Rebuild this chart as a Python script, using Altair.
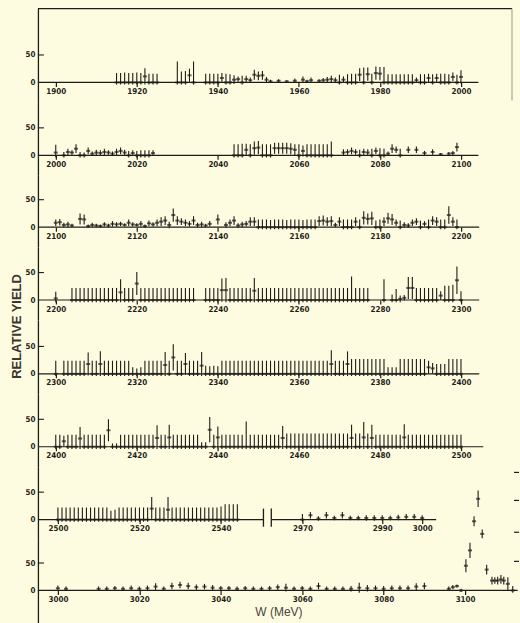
import altair as alt
import pandas as pd

INK = "#1f1c18"
BG = "#fdfbe0"
LFONT = "Liberation Sans Narrow, DejaVu Sans Condensed, sans-serif"

# ---------------- data: (W [MeV], relative yield, error) ----------------
p1 = [(1915,0,17),(1916,0,17),(1917,0,18),(1918,0,17),(1919,0,17),(1920,0,18),(1921,0,17),(1922,11,15),(1923,0,16),(1924,0,16),(1925,0,16),
      (1930,0,38),(1931,0,20),(1932,0,21),(1933,13,12),(1934,0,38),
      (1937,0,16),(1938,0,16),(1939,0,16),(1940,0,16),(1941,8,9),(1942,0,16),(1943,0,15),(1944,5,8),(1945,6,5),(1946,0,12),(1947,6,6),(1948,4,5),
      (1949,14,9),(1950,12,8),(1951,13,8),(1952,5,5),(1953,2,3),
      (1955,3,3),(1957,2,2),(1959,3,4),(1961,5,6),(1962,2,3),(1963,4,5),(1965,3,3),(1966,4,4),(1967,5,5),(1968,6,6),(1969,4,5),(1970,0,14),(1971,5,6),
      (1972,0,15),(1973,0,16),(1974,0,16),(1975,14,12),(1976,0,27),(1977,15,12),(1978,0,16),(1979,17,12),(1980,16,12),(1981,0,28),(1982,0,15),
      (1983,0,15),(1984,0,15),(1985,0,15),(1986,0,15),(1987,0,15),(1988,0,15),(1989,4,5),(1990,0,15),(1991,0,15),(1992,8,8),(1993,0,15),
      (1994,8,8),(1995,0,16),(1996,0,16),(1997,0,15),(1998,10,8),(1999,0,14),(2000,10,12)]

p2 = [(2000,5,14),(2002,0,6),(2003,6,6),(2004,5,4),(2005,12,8),(2006,0,6),(2007,0,5),(2008,8,6),(2009,3,4),(2010,5,5),(2011,4,5),(2012,6,6),
      (2013,5,4),(2014,3,4),(2015,6,6),(2016,8,6),(2017,5,5),(2018,0,8),(2019,4,5),(2020,0,8),(2021,0,9),(2022,0,9),(2023,0,9),(2024,4,5),
      (2044,0,20),(2045,0,20),(2046,0,21),(2047,10,11),(2048,0,20),(2049,13,12),(2050,14,12),(2051,0,20),(2052,0,20),(2053,0,20),(2054,13,10),
      (2055,13,10),(2056,13,10),(2057,13,10),(2058,12,10),(2059,10,10),(2060,0,20),(2061,8,10),(2062,0,20),(2063,0,20),(2064,0,20),(2065,0,20),
      (2066,0,20),(2067,0,20),(2068,0,25),
      (2071,5,6),(2072,6,5),(2073,8,6),(2074,6,5),(2075,0,10),(2076,6,6),(2077,5,6),(2078,0,12),(2079,8,6),(2080,0,13),(2081,0,12),(2082,3,4),
      (2083,12,8),(2084,10,6),(2085,0,12),(2087,10,6),(2089,10,6),(2091,4,4),(2093,6,5),(2095,2,2),(2097,3,3),(2098,4,4),(2099,15,8)]

p3 = [(2100,8,6),(2101,9,6),(2102,4,4),(2103,5,5),(2104,3,3),(2106,15,10),(2107,14,9),(2108,2,3),(2109,4,4),(2110,3,3),(2111,2,3),(2112,5,4),
      (2113,3,3),(2114,6,5),(2115,5,4),(2116,6,4),(2117,4,3),(2118,8,6),(2119,5,4),(2120,4,3),(2121,6,5),(2122,2,3),(2123,7,5),(2124,5,4),
      (2125,8,6),(2126,10,8),(2127,12,8),(2128,4,6),(2129,22,12),(2130,12,8),(2131,10,6),(2132,8,6),(2133,6,5),(2134,12,8),(2135,4,4),(2136,5,5),
      (2137,3,3),(2138,6,5),(2140,14,9),(2142,4,5),(2143,8,6),(2144,12,8),(2145,3,4),(2146,5,5),(2147,6,5),(2148,10,8),(2149,10,8),
      (2150,0,14),(2151,0,14),(2152,0,14),(2153,0,13),(2154,0,14),(2155,0,14),(2156,0,14),(2157,0,13),(2158,0,14),(2159,0,14),(2160,0,14),
      (2161,0,13),(2162,0,14),(2163,0,14),(2164,0,14),
      (2165,11,9),(2166,12,9),(2167,10,8),(2168,11,9),(2169,4,4),(2170,10,8),(2171,0,14),(2172,0,14),(2173,0,14),(2174,10,8),(2175,0,14),
      (2176,17,12),(2177,15,10),(2178,16,12),(2179,0,12),(2180,0,14),(2181,10,8),(2182,16,10),(2183,14,10),(2184,8,6),(2185,0,12),(2186,4,5),
      (2187,3,4),(2188,8,6),(2189,10,6),(2190,0,12),(2191,6,5),(2192,0,14),(2193,12,8),(2194,10,8),(2195,0,14),(2196,0,14),(2197,22,16),
      (2198,10,8),(2199,0,14)]

p4 = [(2200,3,12),
      (2204,0,22),(2205,0,22),(2206,0,22),(2207,0,22),(2208,0,22),(2209,0,22),(2210,0,22),(2211,0,22),(2212,0,22),(2213,0,22),(2214,0,22),
      (2215,0,22),(2216,14,24),(2217,0,22),(2218,0,22),(2219,0,22),(2220,30,21),(2221,0,22),(2222,0,22),(2223,0,22),(2224,0,22),(2225,0,22),
      (2226,0,22),(2227,0,22),(2228,0,22),(2229,0,22),(2230,0,22),(2231,0,22),(2232,0,22),(2233,0,22),(2234,0,22),
      (2237,0,22),(2238,0,22),(2239,0,22),(2240,0,22),(2241,18,21),(2242,18,22),(2243,0,22),(2244,0,22),(2245,0,22),(2246,0,22),(2247,0,22),
      (2248,0,22),(2249,17,23),(2250,0,22),(2251,0,22),(2252,0,22),(2253,0,22),(2254,0,22),(2255,0,22),(2256,0,22),(2257,0,22),(2258,0,22),
      (2259,0,22),(2260,0,22),(2261,0,22),(2262,0,22),(2263,0,22),(2264,0,22),(2265,0,22),(2266,0,22),(2267,0,22),(2268,0,22),(2269,0,22),
      (2270,0,22),(2271,0,22),(2272,0,22),(2273,0,43),(2274,0,22),(2275,0,22),(2276,0,22),(2277,0,22),
      (2281,0,38),(2283,0,10),(2284,0,20),(2285,2,6),(2286,4,5),(2287,22,20),(2288,22,20),(2289,0,22),(2290,0,22),(2291,0,22),(2292,0,22),
      (2293,0,22),(2294,0,22),(2295,8,8),(2296,0,26),(2297,0,26),(2298,0,28),(2299,36,25),(2300,0,16)]

p5 = [(2300,0,24),(2302,0,24),(2303,0,24),(2304,0,24),(2305,0,24),(2306,0,24),(2307,0,24),(2308,18,21),(2309,0,24),(2310,0,24),(2311,18,23),
      (2312,0,24),(2313,0,24),(2314,0,24),(2315,0,24),(2316,0,24),(2317,0,24),(2318,0,24),(2319,0,12),(2320,0,10),(2321,0,12),(2322,0,24),
      (2323,0,24),(2324,0,24),(2325,0,24),(2326,0,24),(2327,16,24),(2328,0,24),(2329,30,24),(2330,0,24),(2331,0,24),(2332,18,20),(2333,0,24),
      (2334,0,24),(2335,0,24),(2336,15,25),(2337,0,15),(2338,0,14),(2339,0,15),(2340,0,14),(2341,0,24),(2342,0,24),(2343,0,24),(2344,0,24),
      (2345,0,24),(2346,0,24),(2347,0,24),(2348,0,24),(2349,0,24),(2350,0,24),(2351,0,24),(2352,0,24),(2353,0,24),(2354,0,24),(2355,0,24),
      (2356,0,24),(2357,0,24),(2358,0,24),(2359,0,24),(2360,0,24),(2361,0,24),(2362,0,24),(2363,0,24),(2364,0,24),(2365,0,24),(2366,0,24),
      (2367,0,24),(2368,18,25),(2369,0,24),(2370,0,24),(2371,0,24),(2372,18,23),(2373,0,27),(2374,0,27),(2375,0,27),(2376,0,27),(2377,0,27),
      (2378,0,27),(2379,0,27),(2380,0,27),(2381,0,27),(2382,0,12),(2383,0,12),(2384,0,12),(2385,0,27),(2386,0,27),(2387,0,27),(2388,0,27),
      (2389,0,27),(2390,0,27),(2391,0,27),(2392,12,12),(2393,10,10),(2394,0,18),(2395,0,18),(2396,0,18),(2397,0,27),(2398,0,27),(2399,0,27),
      (2400,0,27)]

p6 = [(2400,0,22),(2401,0,22),(2402,10,10),(2403,0,22),(2404,0,22),(2405,0,22),(2406,15,21),(2407,0,22),(2408,0,22),(2409,0,22),(2410,0,22),
      (2411,0,22),(2412,0,22),(2413,30,20),(2414,0,6),(2415,0,6),(2416,0,22),(2417,0,22),(2418,0,22),(2419,0,22),(2420,0,22),(2421,0,22),
      (2422,0,22),(2423,0,22),(2424,0,22),(2425,16,23),(2426,0,22),(2427,0,22),(2428,17,23),(2429,0,22),(2430,0,22),(2431,0,22),(2432,0,22),
      (2433,0,22),(2434,0,22),(2435,0,22),(2436,0,8),(2437,0,8),(2438,31,23),(2439,0,22),(2440,17,20),(2441,0,22),(2442,0,22),(2443,0,22),
      (2444,0,22),(2445,0,22),(2446,0,22),(2447,0,46),(2448,0,22),(2449,0,22),(2450,0,22),(2451,0,22),(2452,0,22),(2453,0,22),(2454,0,22),
      (2455,0,22),(2456,16,22),(2457,0,24),(2458,0,24),(2459,0,24),(2460,0,24),(2461,0,24),(2462,0,24),(2463,0,24),(2464,0,24),(2465,0,24),
      (2466,0,24),(2467,0,24),(2468,0,24),(2469,0,24),(2470,0,24),(2471,0,24),(2472,0,24),(2473,16,24),(2474,0,24),(2475,0,24),(2476,17,28),
      (2477,0,24),(2478,16,24),(2479,0,22),(2480,0,22),(2481,0,22),(2482,0,22),(2483,0,22),(2484,0,22),(2485,0,22),(2486,17,24),(2487,0,22),
      (2488,0,22),(2489,0,22),(2490,0,22),(2491,0,22),(2492,0,22),(2493,0,22),(2494,0,22),(2495,0,22),(2496,0,22),(2497,0,22),(2498,0,22),
      (2499,0,22),(2500,0,22)]

p7 = [(2500,0,22),(2501,0,22),(2502,0,22),(2503,0,22),(2504,0,22),(2505,0,22),(2506,0,22),(2507,0,22),(2508,0,22),(2509,0,22),(2510,0,22),
      (2511,0,22),(2512,0,22),(2513,0,16),(2514,0,18),(2515,0,22),(2516,0,22),(2517,0,22),(2518,0,22),(2519,0,22),(2520,0,22),(2521,0,22),
      (2522,0,22),(2523,20,21),(2524,0,22),(2525,0,22),(2526,0,22),(2527,18,23),(2528,0,22),(2529,0,22),(2530,0,22),(2531,0,22),(2532,0,22),
      (2533,0,22),(2534,0,22),(2535,0,22),(2536,0,22),(2537,0,22),(2538,0,22),(2539,0,22),(2540,0,24),(2541,0,28),(2542,0,28),(2543,0,28),
      (2544,0,28),
      (2970,0,10),(2972,8,6),(2974,2,4),(2976,8,6),(2978,3,4),(2980,8,6),(2982,3,4),(2984,3,4),(2986,3,5),(2988,3,5),(2990,3,5),(2992,3,4),
      (2994,4,5),(2996,5,5),(2998,5,5),(3000,3,5)]

p8 = [(3000,4,5),(3002,3,4),(3010,3,4),(3012,3,4),(3014,4,4),(3016,3,4),(3018,4,5),(3020,3,4),(3022,4,5),(3024,7,6),(3026,3,4),(3028,8,6),
      (3030,10,6),(3032,8,6),(3034,6,5),(3036,7,5),(3038,5,5),(3040,4,4),(3042,4,4),(3044,3,4),(3046,4,4),(3048,3,4),(3050,3,4),(3052,4,4),
      (3054,6,5),(3056,5,7),(3058,3,4),(3060,4,4),(3062,3,4),(3064,8,6),(3066,3,4),(3068,3,4),(3070,3,4),(3072,3,5),(3074,5,9),(3076,4,6),
      (3078,4,5),(3080,3,5),(3082,4,5),(3084,4,5),(3086,4,5),(3088,7,6),(3090,8,6),
      (3096,3,4),(3097,6,4),(3098,8,3),(3099,0,3),
      (3100.2,45,12),(3101.2,73,14),(3102.2,126,9),(3103.2,167,15),(3104.2,103,8),(3105.3,38,9),
      (3106.6,18,7),(3107.3,18,6),(3108.0,18,7),(3108.8,20,8),(3109.5,18,7),(3110.5,12,12),(3111.7,0,8)]

# axis tick labels per panel
t1 = [1900, 1920, 1940, 1960, 1980, 2000]
t2 = [2000, 2020, 2040, 2060, 2080, 2100]
t3 = [2100, 2120, 2140, 2160, 2180, 2200]
t4 = [2200, 2220, 2240, 2260, 2280, 2300]
t5 = [2300, 2320, 2340, 2360, 2380, 2400]
t6 = [2400, 2420, 2440, 2460, 2480, 2500]
t7 = [2500, 2520, 2540, 2970, 2990, 3000]
t8 = [3000, 3020, 3040, 3060, 3080, 3100]
y_ticks = [0, 50]
y_inner_ticks = [50]

# baseline segments (W start, W end)
s1 = [(1895.6, 2004.3)]
s2 = [(1995.6, 2104.3)]
s3 = [(2095.6, 2204.5)]
s4 = [(2195.6, 2304.5)]
s5 = [(2295.6, 2404.5)]
s6 = [(2395.6, 2505.5)]
s7 = [(2495.1, 2550.4), (2962.2, 3003.5)]
s8 = [(2995.1, 3112.9)]

# axis break marks in panel 7
break_w = [2550.4, 2962.2]
break_lo = [-13, -13]
break_hi = [20, 20]

# right-hand scale marks beside the resonance (panel 8), in yield units
peak_scale = [53, 106, 164, 215]

W = 482


def panel(pts, xdom, ydom, height, ticks, segs, xrange=None, offset=-20,
          ytitle=None, xtitle=None, top=False, extra=None):
    df = pd.DataFrame(pts, columns=["W", "y", "e"])
    if xrange is None:
        xs = alt.Scale(domain=xdom, nice=False, zero=False)
    else:
        xs = alt.Scale(domain=xdom, range=xrange, nice=False, zero=False)
    ys = alt.Scale(domain=ydom, nice=False, zero=False)

    xaxis_kw = dict(values=ticks, format="d", offset=offset, domain=False, grid=False,
                    tickSize=4, tickColor=INK, tickWidth=1.2,
                    labelFont=LFONT, labelFontSize=8, labelFontWeight="bold",
                    labelColor=INK, labelPadding=1, labelFlush=False)
    if xtitle:
        xaxis_kw.update(title=xtitle, titleFont="Liberation Sans", titleFontSize=12,
                        titleFontWeight="normal", titleColor="#4a4540", titlePadding=3)
    else:
        xaxis_kw.update(title=None)
    yaxis_kw = dict(values=y_ticks, ticks=False, grid=False, domain=True,
                    domainColor=INK, domainWidth=1.3,
                    labelFont=LFONT, labelFontSize=8, labelFontWeight="bold",
                    labelColor=INK, labelPadding=3, labelBaseline="alphabetic",
                    labelOffset=2)
    if ytitle:
        yaxis_kw.update(title=ytitle, titleFont="Liberation Sans", titleFontSize=13,
                        titleFontWeight="bold", titleColor="#3a3632",
                        titleX=-21, titleY=79, titleAlign="center", titleBaseline="middle")
    else:
        yaxis_kw.update(title=None)

    sdf = pd.DataFrame(segs, columns=["a", "b"])
    baseline = alt.Chart(sdf).mark_rule(color=INK, strokeWidth=1.2).encode(
        x=alt.X("a:Q", scale=xs, axis=alt.Axis(**xaxis_kw)),
        x2="b:Q",
        y=alt.Y("z:Q", scale=ys, axis=alt.Axis(**yaxis_kw)),
    ).transform_calculate(z="0")

    bars = alt.Chart(df).transform_calculate(
        lo="max(datum.y - datum.e, -4)", hi="datum.y + datum.e"
    ).mark_rule(color=INK, strokeWidth=1.1).encode(
        x="W:Q", y="lo:Q", y2="hi:Q")

    dots = alt.Chart(df).mark_tick(color=INK, orient="horizontal", size=4, thickness=2).encode(
        x="W:Q", y="y:Q")

    tdf = pd.DataFrame({"v": y_inner_ticks})
    inner = alt.Chart(tdf).mark_rule(color=INK, strokeWidth=1.1).encode(
        x=alt.value(0), x2=alt.value(6), y="v:Q")

    layers = [baseline, bars, dots, inner]
    if top:
        fdf = pd.DataFrame({"v": [0]})
        layers.append(alt.Chart(fdf).mark_rule(color=INK, strokeWidth=1.2).encode(
            x=alt.value(0), x2=alt.value(475), y=alt.value(0)))
        layers.append(alt.Chart(fdf).mark_rule(color="#9a958a", strokeWidth=1).encode(
            x=alt.value(475), y=alt.value(0), y2=alt.value(92)))
    if extra:
        layers.extend(extra)
    return alt.layer(*layers).properties(width=W, height=height)


def dom100(x0):
    return [x0 - 4.4, x0 - 4.4 + W / 4.06]


c1 = panel(p1, dom100(1900), [-36.4, 134.5], 94, t1, s1, top=True)
c2 = panel(p2, dom100(2000), [-36.4, 96.4], 73, t2, s2)
c3 = panel(p3, dom100(2100), [-36.4, 94.5], 72, t3, s3)
c4 = panel(p4, dom100(2200), [-36.4, 96.4], 73, t4, s4, ytitle="RELATIVE  YIELD")
c5 = panel(p5, dom100(2300), [-36.4, 98.2], 74, t5, s5)
c6 = panel(p6, dom100(2400), [-36.4, 96.4], 73, t6, s6)

bdf = pd.DataFrame({"w": break_w, "lo": break_lo, "hi": break_hi})
brk = alt.Chart(bdf).mark_rule(color=INK, strokeWidth=1.3).encode(
    x="w:Q", y="lo:Q", y2="hi:Q")
c7 = panel(p7, [2495.1, 2550.9, 2960.75, 3024.25], [-36.4, 96.4], 73, t7, s7,
           xrange=[0, 228, 228, W], extra=[brk])

pdf = pd.DataFrame({"v": peak_scale})
pk = alt.Chart(pdf).mark_rule(color=INK, strokeWidth=1.2).encode(
    x=alt.value(477), x2=alt.value(482), y="v:Q")
c8 = panel(p8, [2995.1, 2995.1 + W / 4.08], [-60, 92.7], 84, t8, s8,
           offset=-33, xtitle="W (MeV)", extra=[pk])

chart = alt.vconcat(c1, c2, c3, c4, c5, c6, c7, c8, spacing=0, bounds="flush").properties(
    background=BG,
    padding={"left": 11, "top": 7, "right": 0, "bottom": 0},
).configure_view(stroke=None)

chart.save("out.html", embed_options={"renderer": "svg", "actions": False})
